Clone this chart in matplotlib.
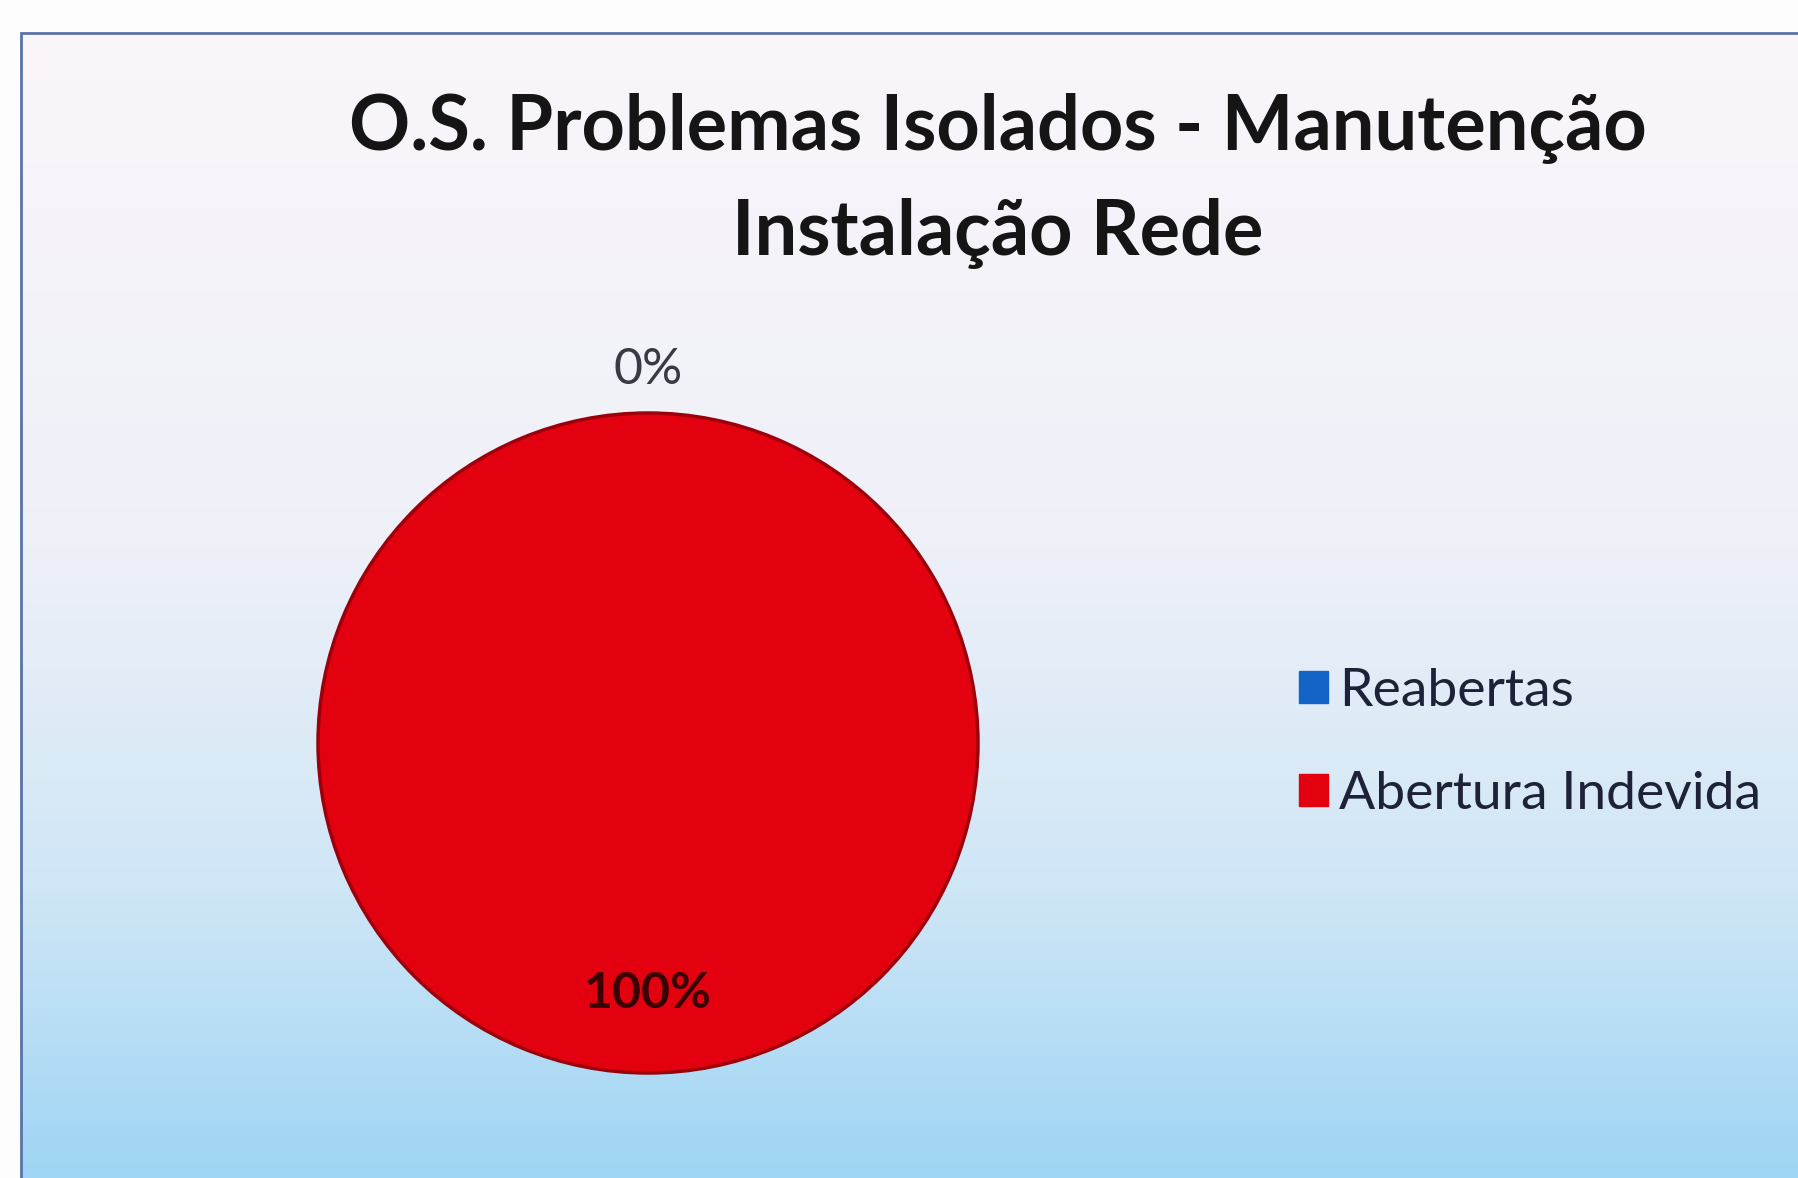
import numpy as np
import matplotlib
matplotlib.use('Agg')
import matplotlib.pyplot as plt
from matplotlib.colors import LinearSegmentedColormap
from matplotlib.patches import Rectangle, Patch

# chart data
categories = ['Reabertas', 'Abertura Indevida']
values = [0, 100]
colors = ['#1464c8', '#e3000f']
title = 'O.S. Problemas Isolados - Manutenção\nInstalação Rede'

W, H = 1798, 1178
fig = plt.figure(figsize=(W / 100, H / 100), dpi=100)
fig.patch.set_facecolor('#fdfdfd')

# background gradient inside the chart frame
frame_x0, frame_y0 = 21, 33  # pixels from left / top
bg = fig.add_axes([frame_x0 / W, 0, 1 - frame_x0 / W, 1 - frame_y0 / H])
cmap = LinearSegmentedColormap.from_list(
    'bg', [(0, '#faf6fb'), (0.45, '#eef0f8'), (0.75, '#cfe6f6'), (1, '#9ed5f4')])
grad = np.linspace(0, 1, 256).reshape(-1, 1)
bg.imshow(grad, aspect='auto', cmap=cmap, extent=[0, 1, 0, 1], origin='upper')
bg.set_xlim(0, 1)
bg.set_ylim(0, 1)
bg.axis('off')

# frame border (top and left visible)
fig.add_artist(Rectangle((frame_x0 / W, -0.1), 1.2, 1 - frame_y0 / H + 0.1,
                         transform=fig.transFigure, fill=False,
                         edgecolor='#5a74a8', linewidth=2))

plt.rcParams['font.family'] = ['Lato', 'DejaVu Sans']

# pie
cx, cy, r = 648, 743, 330
ax = fig.add_axes([(cx - r) / W, (H - cy - r) / H, 2 * r / W, 2 * r / H])
wedges, _ = ax.pie(values, colors=colors, startangle=90, counterclock=False,
                   radius=1, wedgeprops=dict(edgecolor='#9c000b', linewidth=2.5))
ax.set_xlim(-1, 1)
ax.set_ylim(-1, 1)
ax.set_aspect('equal')
ax.axis('off')

# percent labels: outside for empty slices, inside for the rest
total = sum(values)
for w, v in zip(wedges, values):
    ang = np.deg2rad((w.theta1 + w.theta2) / 2)
    if v == 0:
        d, col, wt = 1.13, '#3a3a44', 'normal'
    else:
        d, col, wt = 0.76, '#3a0005', 'bold'
    ax.text(d * np.cos(ang), d * np.sin(ang), f'{v / total * 100:.0f}%',
            ha='center', va='center', fontsize=36, color=col, fontweight=wt)

# title
fig.text(998 / W, 1 - 181 / H, title, ha='center', va='center',
         fontsize=54.5, fontweight='bold', color='#151515', linespacing=1.6)

# legend
handles = [Patch(facecolor=c, edgecolor=c) for c in colors]
leg = fig.legend(handles, categories, loc='center left',
                 bbox_to_anchor=(1299 / W, 1 - 743 / H), frameon=False,
                 fontsize=38.5, handlelength=0.55, handleheight=0.55,
                 handletextpad=0.2, labelspacing=1.05, borderpad=0,
                 borderaxespad=0)
for t in leg.get_texts():
    t.set_color('#1e2238')

fig.savefig('out.png', dpi=100)
